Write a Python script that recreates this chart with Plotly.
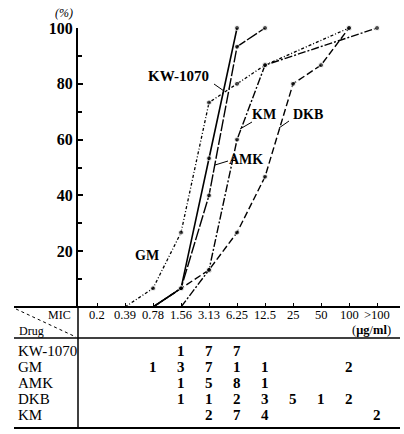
import plotly.graph_objects as go

# ---- data ----
mic_labels = ["0.2", "0.39", "0.78", "1.56", "3.13", "6.25", "12.5", "25", "50", "100", ">100"]
drugs = ["KW-1070", "GM", "AMK", "DKB", "KM"]

# cumulative % of strains inhibited
kw_x = ["0.78", "1.56", "3.13", "6.25"]
kw_y = [0, 6.7, 53.3, 100]
gm_x = ["0.39", "0.78", "1.56", "3.13", "6.25", "12.5", "100"]
gm_y = [0, 6.7, 26.7, 73.3, 80, 86.7, 100]
amk_x = ["0.78", "1.56", "3.13", "6.25", "12.5"]
amk_y = [0, 6.7, 40, 93.3, 100]
dkb_x = ["0.78", "1.56", "3.13", "6.25", "12.5", "25", "50", "100"]
dkb_y = [0, 6.7, 13.3, 26.7, 46.7, 80, 86.7, 100]
km_x = ["1.56", "3.13", "6.25", "12.5", ">100"]
km_y = [0, 13.3, 60, 86.7, 100]

# number of strains per MIC (table)
kw_counts = [None, None, None, 1, 7, 7, None, None, None, None, None]
gm_counts = [None, None, 1, 3, 7, 1, 1, None, None, 2, None]
amk_counts = [None, None, None, 1, 5, 8, 1, None, None, None, None]
dkb_counts = [None, None, None, 1, 1, 2, 3, 5, 1, 2, None]
km_counts = [None, None, None, None, 2, 7, 4, None, None, None, 2]

y_ticks = [20, 40, 60, 80, 100]
y_minor = [10, 30, 50, 70, 90]

# ---- geometry helpers (pixel -> paper) ----
W, H = 404, 434
L, R, T, B = 78, 4, 28, 127
PW, PH = W - L - R, H - T - B


def px(x):
    return (x - L) / PW


def py(y):
    return (H - B - y) / PH


SERIF = "Liberation Serif"
fig = go.Figure()

series = [
    (kw_x, kw_y, "solid", 1.6),
    (gm_x, gm_y, "3px,2px,1px,2px", 1.3),
    (amk_x, amk_y, "12px,2px", 1.4),
    (dkb_x, dkb_y, "7px,3px", 1.4),
    (km_x, km_y, "8px,2px,2px,2px", 1.4),
]
for name, (xs, ys, dash, w) in zip(drugs, series):
    fig.add_trace(go.Scatter(
        x=xs, y=ys, mode="lines+markers", name=name,
        line=dict(color="black", width=w, dash=dash),
        marker=dict(color="black", size=[0 if v == 0 else 5 for v in ys]),
        cliponaxis=False, showlegend=False,
    ))

shapes = []
# x-axis line (extends under the table header)
shapes.append(dict(type="line", xref="paper", yref="paper", x0=px(14), x1=px(400),
                   y0=py(307), y1=py(307), line=dict(color="black", width=2)))
# header bottom line
shapes.append(dict(type="line", xref="paper", yref="paper", x0=px(14), x1=px(400),
                   y0=py(338), y1=py(338), line=dict(color="black", width=1.5)))
# table bottom line
shapes.append(dict(type="line", xref="paper", yref="paper", x0=px(14), x1=px(400),
                   y0=py(428), y1=py(428), line=dict(color="black", width=2)))
# vertical divider continuing the y-axis
shapes.append(dict(type="line", xref="paper", yref="paper", x0=px(78), x1=px(78),
                   y0=py(307), y1=py(428), line=dict(color="black", width=1.5)))
# diagonal in header cell
shapes.append(dict(type="line", xref="paper", yref="paper", x0=px(16), x1=px(76),
                   y0=py(309), y1=py(337), line=dict(color="black", width=1, dash="dot")))
# leader lines for curve labels
leaders = [((214, 84), (224, 91)), ((252, 122), (240, 129)), ((289, 121), (279, 128)),
           ((228, 161), (215, 165))]
for (x0, y0), (x1, y1) in leaders:
    shapes.append(dict(type="line", xref="paper", yref="paper", x0=px(x0), x1=px(x1),
                       y0=py(y0), y1=py(y1), line=dict(color="black", width=1)))

ann = []


def add(x, y, text, size, xref="paper", xanchor="center"):
    ann.append(dict(x=x, xref=xref, y=py(y), yref="paper", text=text, showarrow=False,
                    xanchor=xanchor, yanchor="middle",
                    font=dict(family=SERIF, size=size, color="black")))


# header labels (x given as category index)
for i, m in enumerate(mic_labels):
    add(i, 315, m, 12.5, xref="x")
add(px(371), 330, "(<b>μg</b>/<b>ml</b>)", 12.5)
add(px(73), 315, "MIC", 12, xanchor="right")
add(px(17), 331, "Drug", 12, xanchor="left")
# rows
row_y = [351, 367, 383, 399, 415]
all_counts = [kw_counts, gm_counts, amk_counts, dkb_counts, km_counts]
for name, counts, ry in zip(drugs, all_counts, row_y):
    add(px(16), ry, name, 15, xanchor="left")
    for i, c in enumerate(counts):
        if c is not None:
            add(i, ry, f"<b>{c}</b>", 15, xref="x")
# curve labels
curve_labels = [("KW-1070", 178, 76, 15), ("KM", 264, 114, 14), ("DKB", 308, 114, 14),
                ("AMK", 246, 159, 14), ("GM", 147, 256, 14)]
for txt, x, y, s in curve_labels:
    add(px(x), y, f"<b>{txt}</b>", s)
# unit label
add(px(64), 13, "<i>(%)</i>", 12)

fig.update_layout(
    width=W, height=H,
    margin=dict(l=L, r=R, t=T, b=B, pad=0),
    paper_bgcolor="white", plot_bgcolor="white",
    shapes=shapes, annotations=ann,
    xaxis=dict(type="category", categoryorder="array", categoryarray=mic_labels,
               range=[-0.68, 10.82], showgrid=False, zeroline=False, showline=False,
               ticks="inside", ticklen=4, tickwidth=1, tickcolor="black",
               showticklabels=False),
    yaxis=dict(range=[0, 100], showgrid=False, zeroline=False, showline=True,
               linecolor="black", linewidth=2, ticks="inside", ticklen=5, tickwidth=2,
               tickcolor="black", tickvals=y_ticks, ticktext=[str(v) for v in y_ticks],
               tickfont=dict(family=SERIF, size=16, color="black", weight="bold"),
               minor=dict(tickvals=y_minor, ticks="inside", ticklen=4, tickwidth=1.5,
                          tickcolor="black")),
)

fig.write_html("out.html")
